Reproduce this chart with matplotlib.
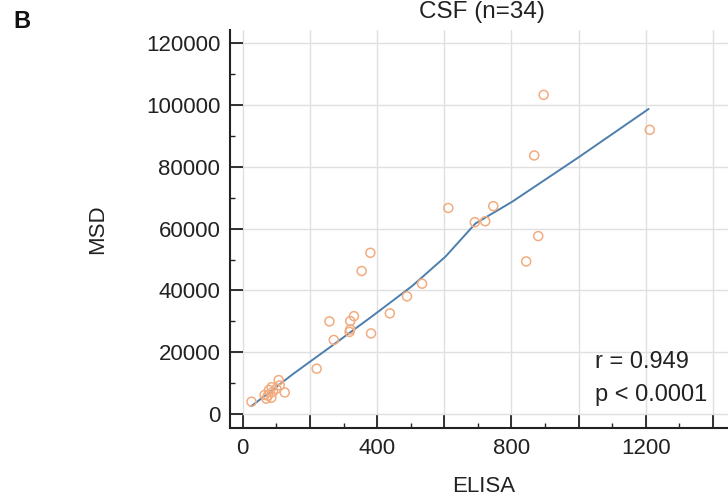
import matplotlib
matplotlib.use("Agg")
import matplotlib.pyplot as plt
from matplotlib.ticker import MultipleLocator, FuncFormatter

plt.rcParams['font.family'] = ['Liberation Sans', 'DejaVu Sans']

elisa = [26, 65, 78, 86, 90, 85, 70, 107, 110, 125, 100, 75,
         220, 258, 271, 318, 320, 320, 331, 382, 354, 380,
         438, 489, 534, 612, 691, 722, 746, 844, 880, 868, 896, 1212]
msd = [4000, 6200, 7800, 8700, 7200, 5300, 5000, 11000, 9300, 7000, 8200, 6000,
       14700, 30000, 24000, 26600, 27400, 30100, 31700, 26100, 46300, 52200,
       32600, 38100, 42200, 66700, 62100, 62400, 67300, 49400, 57600, 83700, 103300, 92000]

# smoothed fit line vertices
fit_x = [26, 150, 258, 387, 505, 604, 693, 802, 1000, 1208]
fit_y = [2600, 13000, 21500, 31800, 41500, 51000, 61700, 68700, 83100, 98700]

r_text = "r = 0.949"
p_text = "p < 0.0001"

fig = plt.figure(figsize=(7.28, 4.99), dpi=100)
ax = fig.add_axes([230 / 728, 71 / 499, 498 / 728, 398 / 499])

ax.set_xlim(-38, 1445)
ax.set_ylim(-4500, 124300)

ax.grid(True, color='#e0e0e0', lw=1.0, zorder=0)
ax.set_axisbelow(True)

ax.plot(fit_x, fit_y, color='#4d7fae', lw=1.4, zorder=3)
ax.scatter(elisa, msd, s=42, facecolors='none', edgecolors='#f2ac80',
           linewidths=1.1, zorder=4)

ax.xaxis.set_major_locator(MultipleLocator(200))
ax.xaxis.set_minor_locator(MultipleLocator(100))
ax.yaxis.set_major_locator(MultipleLocator(20000))
ax.yaxis.set_minor_locator(MultipleLocator(10000))
# only every other major x tick gets a label
ax.xaxis.set_major_formatter(FuncFormatter(
    lambda v, pos: f"{int(round(v))}" if round(v) % 400 == 0 else ""))
ax.yaxis.set_major_formatter(FuncFormatter(lambda v, pos: f"{int(round(v))}"))

ax.tick_params(which='major', direction='in', length=9.5, width=1.3,
               color='#222222', labelsize=16, labelcolor='#222222', pad=7)
ax.tick_params(which='minor', direction='in', length=3.5, width=1.0,
               color='#222222')

for side in ['top', 'right']:
    ax.spines[side].set_visible(False)
for side in ['left', 'bottom']:
    ax.spines[side].set_linewidth(1.5)
    ax.spines[side].set_color('#222222')

ax.set_xlabel("ELISA", fontsize=16, color='#222222')
ax.set_ylabel("MSD", fontsize=16, color='#222222')
ax.xaxis.set_label_coords(0.51, -0.12)
ax.yaxis.set_label_coords(-0.245, 0.5)

fig.text(595 / 728, 1 - 362 / 499, r_text, fontsize=17, color='#222222',
         ha='left', va='center')
fig.text(595 / 728, 1 - 395 / 499, p_text, fontsize=17, color='#222222',
         ha='left', va='center')

fig.text(482 / 728, 1 - 12 / 499, "CSF (n=34)", fontsize=17.5, color='#222222',
         ha='center', va='center')
fig.text(22 / 728, 1 - 22 / 499, "B", fontsize=17, fontweight='bold',
         color='#111111', ha='center', va='center')

fig.savefig("out.png", dpi=100)
